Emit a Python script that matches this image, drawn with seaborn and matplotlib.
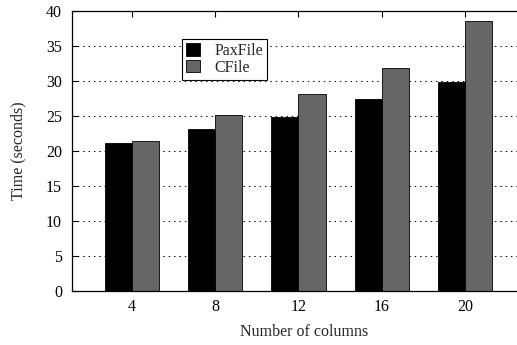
import pandas as pd
import matplotlib
matplotlib.use('Agg')
import matplotlib.pyplot as plt
import seaborn as sns

# Data
columns = ['4', '8', '12', '16', '20']
paxfile = [21.05, 23.05, 24.75, 27.4, 29.75]
cfile = [21.35, 25.05, 28.05, 31.75, 38.45]

df = pd.DataFrame({
    'columns': columns * 2,
    'time': paxfile + cfile,
    'format': ['PaxFile'] * len(columns) + ['CFile'] * len(columns),
})

sns.set_style('ticks')
plt.rcParams['font.family'] = ['Liberation Serif', 'DejaVu Serif']
plt.rcParams['font.size'] = 11.5

fig = plt.figure(figsize=(5.17, 3.45), dpi=100)
# axes run past the right edge, as in the cropped original
ax = fig.add_axes([0.1387, 0.1565, 0.9, 0.813])

sns.barplot(data=df, x='columns', y='time', hue='format',
            palette=['#000000', '#666666'], width=0.65, gap=0,
            edgecolor='black', linewidth=0.6, saturation=1, ax=ax)

ax.set_xlim(-0.72, -0.72 + 5.44 * 0.9 / 0.877)
ax.set_ylim(0, 40)
ax.set_yticks(range(0, 41, 5))
ax.set_axisbelow(True)
ax.yaxis.grid(True, color='black', linestyle=(0, (1.5, 4)), linewidth=0.7)
ax.tick_params(axis='both', direction='in', top=True, right=True, length=4,
               width=0.8, labelsize=11.5, colors='black')
ax.tick_params(axis='y', pad=7)
ax.tick_params(axis='x', pad=6)
for s in ax.spines.values():
    s.set_color('black')
    s.set_linewidth(0.9)

ax.set_xlabel('Number of columns', fontsize=11.5, labelpad=6)
ax.set_ylabel('Time (seconds)', fontsize=11.5, labelpad=14)

leg = ax.legend(loc='upper left', bbox_to_anchor=(182 / 517, 1 - 39 / 345),
                bbox_transform=fig.transFigure, borderaxespad=0,
                fancybox=False, framealpha=1, edgecolor='black',
                handlelength=0.9, handleheight=0.8, handletextpad=0.9,
                labelspacing=0.05, borderpad=0.25, fontsize=11.5, title=None)
leg.get_frame().set_linewidth(0.8)

fig.savefig('out.png', dpi=100)
